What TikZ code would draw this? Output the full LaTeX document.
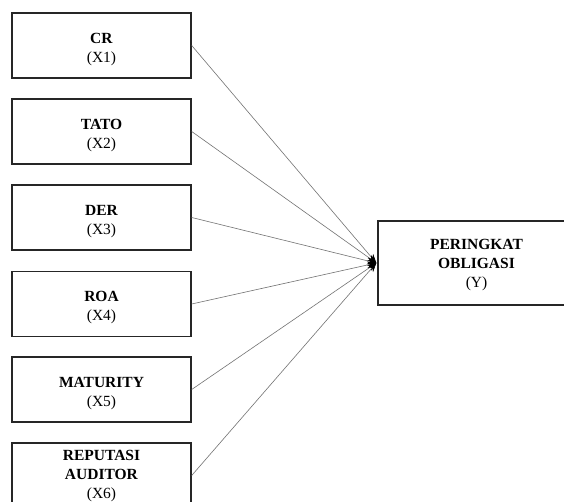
\documentclass[tikz,border=0pt]{standalone}
\usepackage{fontspec}
\setmainfont{Liberation Serif}
\usetikzlibrary{arrows.meta}
\newcommand{\lowtxt}[2][-7pt]{\raisebox{#1}[0pt][0pt]{\begin{tabular}{@{}c@{}}#2\end{tabular}}}
\begin{document}
\begin{tikzpicture}[x=1pt,y=-1pt,
  box/.style={draw=black!85,line width=1.4pt,minimum width=179pt,minimum height=65pt,inner sep=0pt,align=center,font=\fontsize{15.5}{19}\selectfont},
  bigbox/.style={box,minimum width=197pt,minimum height=84pt},
  link/.style={draw=black!55,line width=0.6pt,-{Stealth[length=9pt,width=7pt,black]}}]
\fill[white] (0,0) rectangle (564,502);
\useasboundingbox (0,0) rectangle (564,502);
\clip (0,0) rectangle (564,502);
\node[box] (x1) at (101.5,45.5) {\lowtxt{\textbf{CR}\\(X1)}};
\node[box] (x2) at (101.5,131.5) {\lowtxt{\textbf{TATO}\\(X2)}};
\node[box] (x3) at (101.5,217.5) {\lowtxt{\textbf{DER}\\(X3)}};
\node[box] (x4) at (101.5,304) {\lowtxt{\textbf{ROA}\\(X4)}};
\node[box] (x5) at (101.5,389.5) {\lowtxt{\textbf{MATURITY}\\(X5)}};
\node[box] (x6) at (101.5,475.5) {\lowtxt[-4pt]{\textbf{REPUTASI}\\\textbf{AUDITOR}\\(X6)}};
\node[bigbox] (y) at (476.5,263) {\lowtxt[-5pt]{\textbf{PERINGKAT}\\\textbf{OBLIGASI}\\(Y)}};
\foreach \n in {x1,x2,x3,x4,x5,x6}
  \draw[link] (\n.east) -- ([xshift=-1pt]y.west);
\end{tikzpicture}
\end{document}
